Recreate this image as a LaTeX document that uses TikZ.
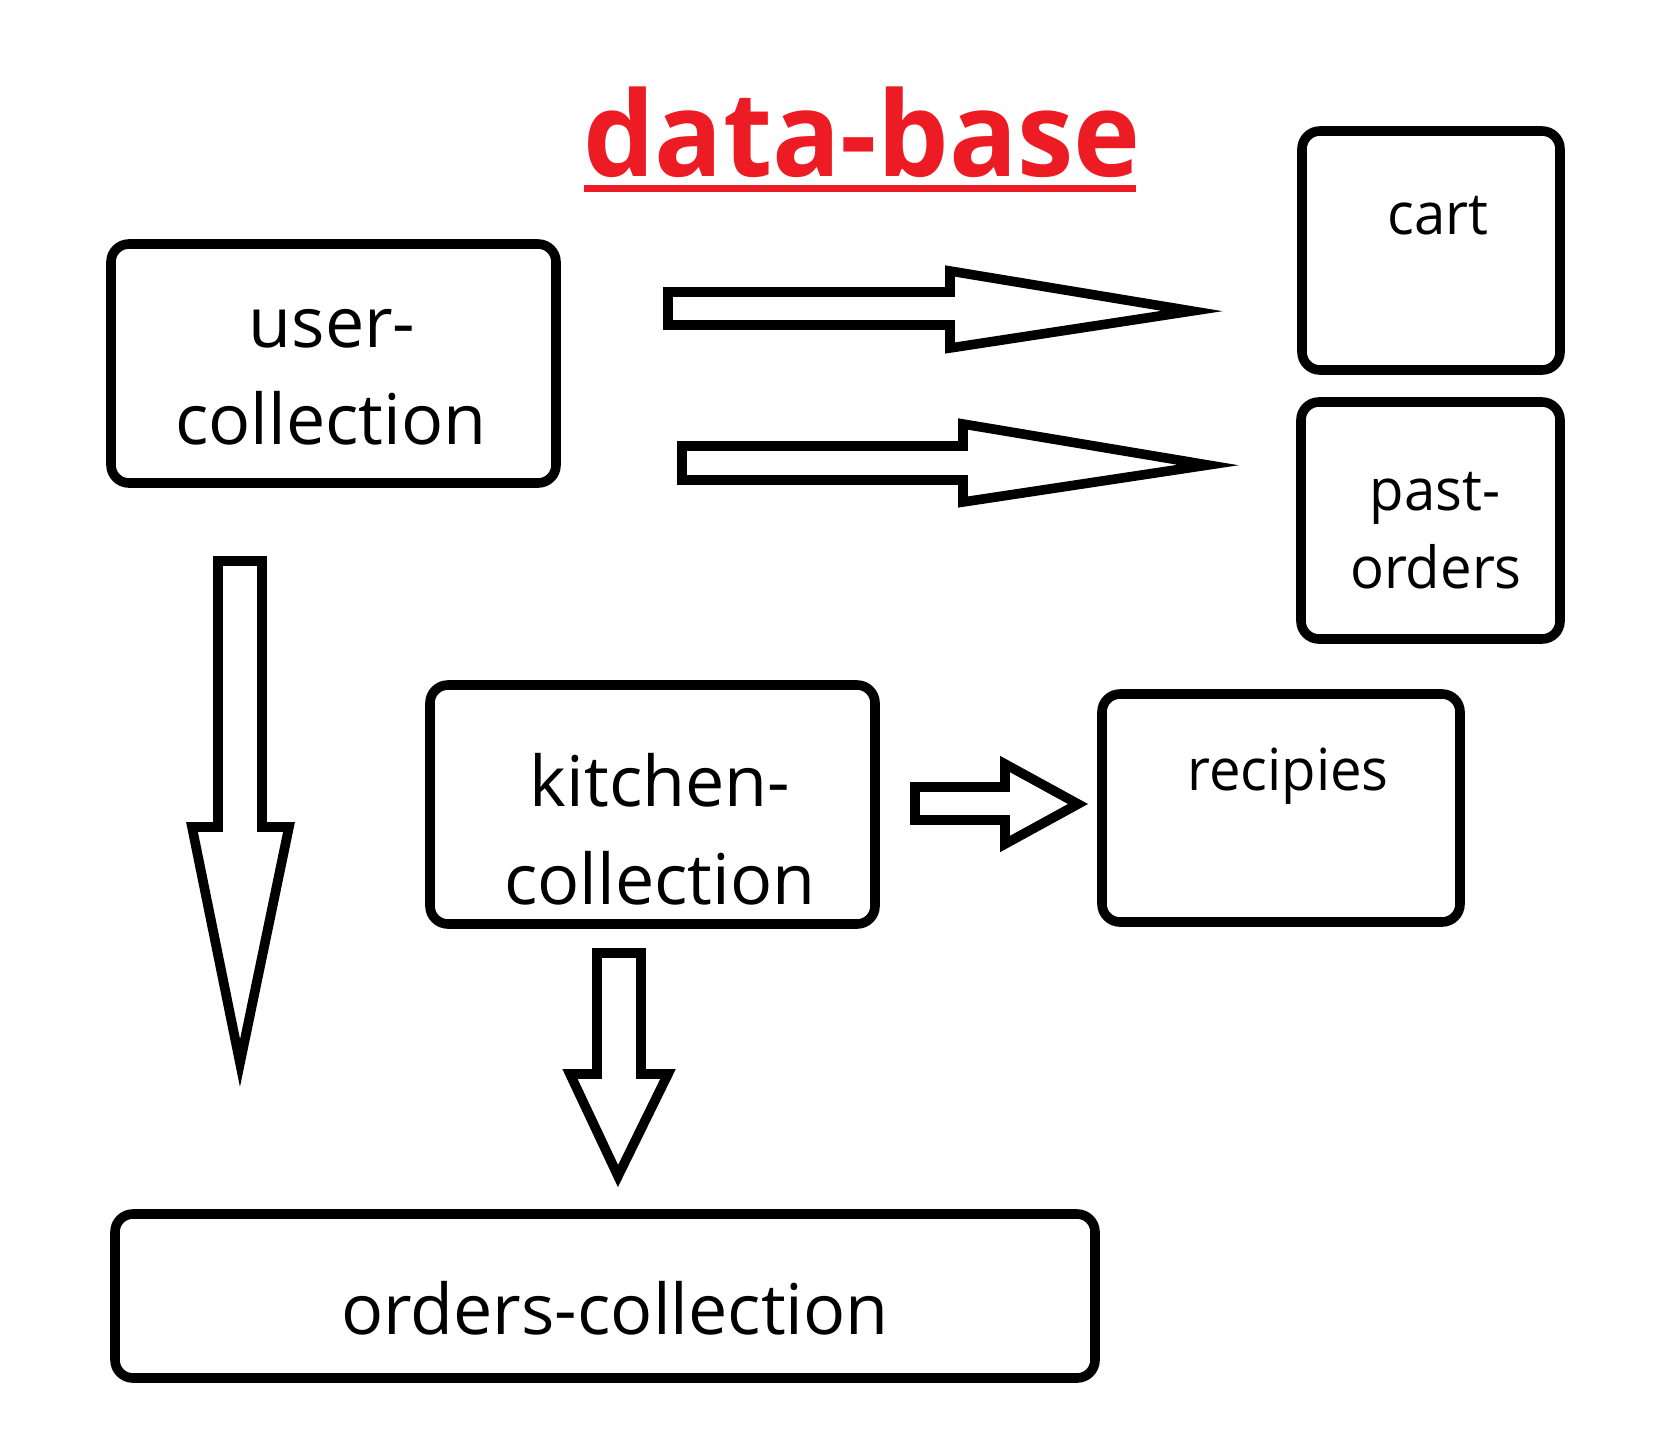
\documentclass[tikz,border=0pt]{standalone}
\usepackage{fontspec}
\setmainfont{Open Sans}
\newfontfamily\smallfam[FakeStretch=0.97]{Open Sans}
\newfontfamily\titlefam[FakeStretch=0.96]{Open Sans}
\definecolor{titlered}{RGB}{237,28,36}
\begin{document}
\begin{tikzpicture}[x=0.5pt,y=-0.5pt,
  box/.style={draw=black, line width=4.8pt, rounded corners=9pt, inner sep=0pt, rectangle},
  blockarrow/.style={draw=black, line width=4.8pt, line join=miter, fill=white},
  biglbl/.style={anchor=base, inner sep=0pt, font=\fontsize{35}{42}\selectfont},
  smalllbl/.style={anchor=base, inner sep=0pt, font=\smallfam\fontsize{29}{35}\selectfont},
  titlelbl/.style={anchor=base, inner sep=0pt, text=titlered, font=\titlefam\bfseries\fontsize{59}{70}\selectfont}]
\useasboundingbox (0,0) rectangle (1660,1440);
\fill[white] (0,0) rectangle (1660,1440);

% title
\node[titlelbl] (title) at (862,176) {data-base};
\draw[titlered, line width=3.5pt] (584,188.5) coordinate (ulA) -- (1136,188.5) coordinate (ulB);

% boxes
\node[box, minimum width=222.5pt, minimum height=119.5pt] (user) at (333.5,363.5) {};
\node[box, minimum width=129pt, minimum height=119.5pt] (cart) at (1431,250.5) {};
\node[box, minimum width=129.5pt, minimum height=118.5pt] (past) at (1430.5,520.5) {};
\node[box, minimum width=222.5pt, minimum height=119.5pt] (kitchen) at (652.5,804.5) {};
\node[box, minimum width=179pt, minimum height=114pt] (recip) at (1281,808) {};
\node[box, minimum width=490pt, minimum height=82pt] (orders) at (605,1296) {};

% labels
\node[biglbl] (userA) at (332,347) {user-};
\node[biglbl] (userB) at (331,444) {collection};
\node[biglbl] (kitA) at (660,806) {kitchen-};
\node[biglbl] (kitB) at (660,904) {collection};
\node[biglbl] (ordA) at (615,1334) {orders-collection};
\node[smalllbl] (cartA) at (1438,234) {cart};
\node[smalllbl] (pastA) at (1435,510) {past-};
\node[smalllbl] (pastB) at (1436,588) {orders};
\node[smalllbl] (recA) at (1288,790) {recipies};

% block arrows
\draw[blockarrow] (668,292) -- (950,292) -- (950,271) -- (1192,311) -- (950,348) -- (950,325) -- (668,325) -- cycle;
\draw[blockarrow] (682,446) -- (963,446) -- (963,424) -- (1208,465) -- (963,502) -- (963,480) -- (682,480) -- cycle;
\draw[blockarrow] (218,561) -- (262,561) -- (262,827) -- (289,827) -- (240,1063) -- (192,827) -- (218,827) -- cycle;
\draw[blockarrow] (597,953) -- (641,953) -- (641,1074) -- (668,1074) -- (618,1176) -- (570,1074) -- (597,1074) -- cycle;
\draw[blockarrow] (915,787) -- (1005,787) -- (1005,764) -- (1078,804) -- (1005,844) -- (1005,820) -- (915,820) -- cycle;
\end{tikzpicture}
\end{document}
